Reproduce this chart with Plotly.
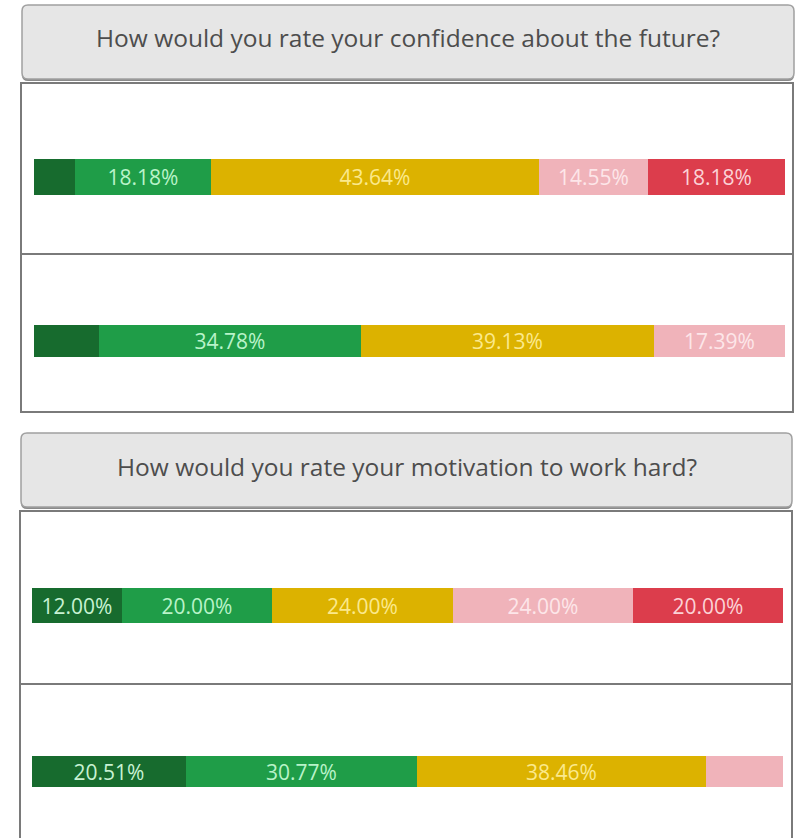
import plotly.graph_objects as go

# ---------------- data ----------------
categories = ["Very high", "High", "Neutral", "Low", "Very low"]
question_titles = [
    "How would you rate your confidence about the future?",
    "How would you rate your motivation to work hard?",
]
confidence_group1 = [5.45, 18.18, 43.64, 14.55, 18.18]
confidence_group2 = [8.70, 34.78, 39.13, 17.39, None]
motivation_group1 = [12.00, 20.00, 24.00, 24.00, 20.00]
motivation_group2 = [20.51, 30.77, 38.46, 10.26, None]
labels_visible = [
    [False, True, True, True, True],
    [False, True, True, True, False],
    [True, True, True, True, True],
    [True, True, True, False, False],
]
series = [confidence_group1, confidence_group2, motivation_group1, motivation_group2]

# ---------------- styles ----------------
W, H = 795, 838
bar_colors = ["#176b2e", "#1f9d48", "#dcb200", "#f0b3ba", "#dc3d4c"]
text_colors = ["#c8f2d3", "#b9f3c9", "#fbe98c", "#fde6e9", "#fbd2d6"]
FONT = "Open Sans"


def px(x):
    return x / W


def py(y):
    return 1 - y / H


# bar pixel extents (left, right, top, bottom)
bar_boxes = [(34, 785, 159, 195), (34, 785, 325, 357), (32, 783, 588, 623), (32, 783, 756, 787)]

fig = go.Figure()
layout_axes = {}
for i, (vals, vis) in enumerate(zip(series, labels_visible)):
    n = "" if i == 0 else str(i + 1)
    for j, cat in enumerate(categories):
        if vals[j] is None:
            continue
        txt = f"{vals[j]:.2f}%" if vis[j] else ""
        fig.add_trace(go.Bar(
            x=[vals[j]], y=[0], orientation="h", name=cat,
            marker=dict(color=bar_colors[j], line=dict(width=0)),
            text=[txt], textposition="inside", insidetextanchor="middle",
            constraintext="none",
            textfont=dict(color=text_colors[j], size=21, family=FONT),
            xaxis="x" + n, yaxis="y" + n, showlegend=False,
            hovertemplate=cat + ": %{x:.2f}%<extra></extra>",
        ))
    l, r, t, b = bar_boxes[i]
    layout_axes["xaxis" + n] = dict(domain=[px(l), px(r)], range=[0, 100], visible=False,
                                    anchor="y" + n, fixedrange=True)
    layout_axes["yaxis" + n] = dict(domain=[py(b), py(t)], range=[-0.5, 0.5], visible=False,
                                    anchor="x" + n, fixedrange=True)


def rounded_path(x0, y0, x1, y1, r):
    pts = [
        f"M {px(x0 + r)} {py(y0)}",
        f"L {px(x1 - r)} {py(y0)}",
        f"Q {px(x1)} {py(y0)} {px(x1)} {py(y0 + r)}",
        f"L {px(x1)} {py(y1 - r)}",
        f"Q {px(x1)} {py(y1)} {px(x1 - r)} {py(y1)}",
        f"L {px(x0 + r)} {py(y1)}",
        f"Q {px(x0)} {py(y1)} {px(x0)} {py(y1 - r)}",
        f"L {px(x0)} {py(y0 + r)}",
        f"Q {px(x0)} {py(y0)} {px(x0 + r)} {py(y0)}",
        "Z",
    ]
    return " ".join(pts)


shapes = []
content_boxes = [(21, 83, 793, 254), (21, 254, 793, 412), (20, 511, 792, 684), (20, 684, 792, 845)]
for (x0, y0, x1, y1) in content_boxes:
    shapes.append(dict(type="rect", xref="paper", yref="paper",
                       x0=px(x0), x1=px(x1), y0=py(y1), y1=py(y0),
                       fillcolor="white", line=dict(color="#7a7a7a", width=2), layer="below"))

headers = [(22, 5, 794, 79), (21, 433, 792, 507)]
for (x0, y0, x1, y1) in headers:
    shapes.append(dict(type="path", xref="paper", yref="paper",
                       path=rounded_path(x0, y0 + 2, x1, y1 + 2, 6),
                       fillcolor="#8a8a8a", line=dict(width=0), layer="below"))
    shapes.append(dict(type="path", xref="paper", yref="paper",
                       path=rounded_path(x0, y0, x1, y1, 6),
                       fillcolor="#e6e6e6", line=dict(color="#a0a0a0", width=1.5), layer="below"))

annotations = []
for (x0, y0, x1, y1), title in zip(headers, question_titles):
    annotations.append(dict(text=title, xref="paper", yref="paper",
                            x=px((x0 + x1) / 2), y=py((y0 + y1) / 2 - 4),
                            xanchor="center", yanchor="middle", showarrow=False,
                            font=dict(family=FONT, size=24.5, color="#4d4d4d")))

fig.update_layout(
    width=W, height=H,
    margin=dict(l=0, r=0, t=0, b=0),
    paper_bgcolor="white", plot_bgcolor="rgba(0,0,0,0)",
    barmode="stack", bargap=0,
    shapes=shapes, annotations=annotations,
    **layout_axes,
)

fig.write_html("out.html")
